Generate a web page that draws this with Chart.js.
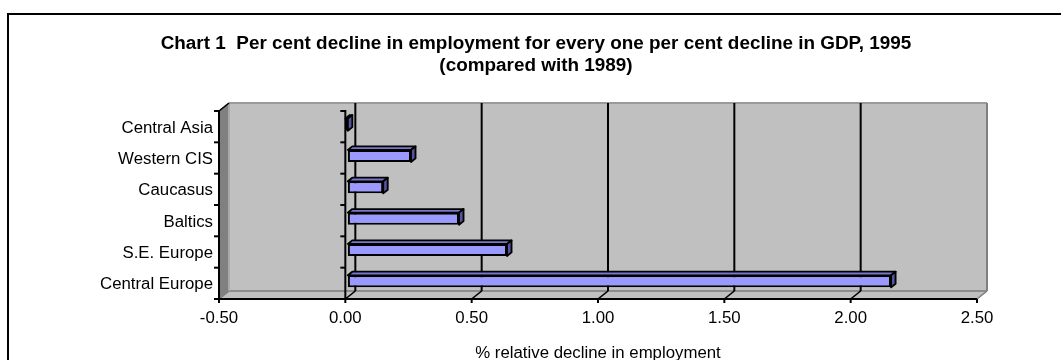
<!DOCTYPE html>
<html>
<head>
<meta charset="utf-8">
<title>Per cent decline in employment</title>
<script src="https://cdn.jsdelivr.net/npm/chart.js@4.4.1/dist/chart.umd.min.js"></script>
<style>
  html, body { margin: 0; padding: 0; background: #ffffff; }
  canvas { display: block; }
</style>
</head>
<body>
<canvas id="chart" width="1061" height="360"></canvas>
<script>
// ---- data -------------------------------------------------------------
const categories = ['Central Asia', 'Western CIS', 'Caucasus', 'Baltics', 'S.E. Europe', 'Central Europe'];
const declineRatio = [-0.01, 0.25, 0.14, 0.44, 0.63, 2.15];
const tickValues = [-0.5, 0, 0.5, 1, 1.5, 2, 2.5];
const titleLines = [
  'Chart 1  Per cent decline in employment for every one per cent decline in GDP, 1995',
  '(compared with 1989)'
];
const axisTitle = '% relative decline in employment';

// ---- look -------------------------------------------------------------
const FONT = '"Liberation Sans", Arial, Helvetica, sans-serif';
const SX = 1.05;               // the whole drawing is stretched slightly sideways
const CANVAS_W = 1061;
const PLOT_LEFT = 219 / SX;    // front plane of the 3-D box, in drawing units
const PLOT_RIGHT = 977 / SX;
const TITLE_CENTER = 536 / SX;
const DEPTH_X = 10 / SX;       // depth offset (front plane -> back wall)
const DEPTH_Y = -8;
const BAR_FRONT = 0.25;        // bar slab position inside the depth
const BAR_BACK = 0.7;
const V_LINE = 2 / SX;         // 2 screen px for vertical strokes
const RIGHT_PAD = CANVAS_W - 2 * TITLE_CENTER;

function poly(ctx, pts, fill, stroke, lw) {
  ctx.beginPath();
  ctx.moveTo(pts[0][0], pts[0][1]);
  for (let i = 1; i < pts.length; i++) ctx.lineTo(pts[i][0], pts[i][1]);
  ctx.closePath();
  if (fill) { ctx.fillStyle = fill; ctx.fill(); }
  if (stroke) { ctx.strokeStyle = stroke; ctx.lineWidth = lw || 2; ctx.stroke(); }
}
function line(ctx, x1, y1, x2, y2, color, lw) {
  ctx.beginPath();
  ctx.moveTo(x1, y1);
  ctx.lineTo(x2, y2);
  ctx.strokeStyle = color;
  ctx.lineWidth = lw;
  ctx.stroke();
}

// Walls, floor, grid and axis lines of the 3-D box
function drawBox(chart) {
  const ctx = chart.ctx;
  const { left: L, right: R, top: T, bottom: B } = chart.chartArea;
  const xs = chart.scales.x, ys = chart.scales.y;
  const dx = DEPTH_X, dy = DEPTH_Y;

  // back wall
  ctx.fillStyle = '#C0C0C0';
  ctx.fillRect(L + dx, T + dy, R - L, B - T);
  // floor
  poly(ctx, [[L, B], [L + dx, B + dy], [R + dx, B + dy], [R, B]], '#C0C0C0');
  // left side wall
  poly(ctx, [[L, T], [L + dx, T + dy], [L + dx, B + dy], [L, B]], '#808080');

  // wall outlines
  ctx.lineCap = 'butt';
  line(ctx, L + dx, T + dy, R + dx, T + dy, '#9A9A9A', 2);
  line(ctx, R + dx, T + dy, R + dx, B + dy, '#808080', V_LINE);
  line(ctx, L + dx, B + dy, R + dx, B + dy, '#8C8C8C', 2);
  line(ctx, L + dx, T + dy, L + dx, B + dy, '#A8A8A8', V_LINE);
  line(ctx, R, B, R + dx, B + dy, '#808080', 1.6);
  line(ctx, L, B, L + dx, B + dy, '#808080', 1.6);

  // gridlines on the back wall and their traces across the floor
  tickValues.forEach(v => {
    if (v <= tickValues[0] || v >= tickValues[tickValues.length - 1]) return;
    const x = xs.getPixelForValue(v);
    line(ctx, x + dx, T + dy, x + dx, B + dy, '#000000', V_LINE);
    line(ctx, x, B, x + dx, B + dy, '#000000', 1.6);
  });

  // category boundaries
  const half = (ys.getPixelForValue(1) - ys.getPixelForValue(0)) / 2;
  const bounds = [];
  for (let i = 0; i < categories.length; i++) bounds.push(ys.getPixelForValue(i) - half);
  bounds.push(ys.getPixelForValue(categories.length - 1) + half);

  // left wall front edge with category ticks
  line(ctx, L, T, L + dx, T + dy, '#000000', 1.6);
  line(ctx, L, T - 1, L, B + 1, '#000000', V_LINE);
  bounds.forEach(y => line(ctx, L, y, L - 5 / SX, y, '#000000', 2));

  // category axis at zero with ticks
  const x0 = xs.getPixelForValue(0);
  line(ctx, x0, T - 1, x0, B, '#000000', V_LINE);
  bounds.forEach(y => line(ctx, x0, y, x0 - 5 / SX, y, '#000000', 2));

  // value axis along the front of the floor
  line(ctx, L, B, R, B, '#000000', 2);
  tickValues.forEach(v => {
    const x = xs.getPixelForValue(v);
    line(ctx, x, B, x, B + 4, '#000000', V_LINE);
  });
}

const boxPlugin = {
  id: 'box3d',
  beforeDraw(chart) {
    const ctx = chart.ctx;
    ctx.save();
    ctx.fillStyle = '#ffffff';
    ctx.fillRect(0, 0, chart.width, chart.height);
    ctx.scale(SX, 1);
    // frame around the chart
    ctx.fillStyle = '#000000';
    ctx.fillRect(7 / SX, 13, (chart.width - 7) / SX, 2);
    ctx.fillRect(7 / SX, 13, 2 / SX, chart.height - 13);
    drawBox(chart);
  },
  beforeDatasetsDraw(chart) {
    const ctx = chart.ctx;
    const fx = DEPTH_X * BAR_FRONT, fy = DEPTH_Y * BAR_FRONT;
    const ddx = DEPTH_X * (BAR_BACK - BAR_FRONT), ddy = DEPTH_Y * (BAR_BACK - BAR_FRONT);
    ctx.save();
    ctx.translate(fx, fy);
    ctx.lineJoin = 'round';
    chart.getDatasetMeta(0).data.forEach(bar => {
      const { x, y, base, height } = bar.getProps(['x', 'y', 'base', 'height'], true);
      const l = Math.min(x, base), r = Math.max(x, base);
      const t = y - height / 2, b = y + height / 2;
      // top face
      poly(ctx, [[l, t], [r, t], [r + ddx, t + ddy], [l + ddx, t + ddy]], '#7777CC', '#000000', 1.8);
      // end face
      poly(ctx, [[r, t], [r + ddx, t + ddy], [r + ddx, b + ddy], [r, b]], '#55559F', '#000000', 1.8);
    });
    // the library draws the front faces in this shifted frame
  },
  afterDatasetsDraw(chart) {
    chart.ctx.restore();
  },
  afterDraw(chart) {
    chart.ctx.restore();
  }
};

new Chart(document.getElementById('chart'), {
  type: 'bar',
  data: {
    labels: categories,
    datasets: [{
      data: declineRatio,
      backgroundColor: '#9999FF',
      borderColor: '#000000',
      borderWidth: 2,
      borderSkipped: false,
      barPercentage: 0.385,
      categoryPercentage: 1
    }]
  },
  options: {
    indexAxis: 'y',
    responsive: false,
    animation: false,
    devicePixelRatio: 1,
    events: [],
    layout: { padding: { left: 0, right: RIGHT_PAD, top: 0, bottom: 0 } },
    plugins: {
      legend: { display: false },
      tooltip: { enabled: false },
      title: {
        display: true,
        text: titleLines,
        color: '#000000',
        font: { family: FONT, size: 18, weight: 'bold', lineHeight: 22 / 18 },
        padding: { top: 33, bottom: 34 }
      }
    },
    scales: {
      x: {
        type: 'linear',
        position: 'bottom',
        min: tickValues[0],
        max: tickValues[tickValues.length - 1],
        afterBuildTicks(scale) { scale.ticks = tickValues.map(v => ({ value: v })); },
        ticks: {
          callback: v => Number(v).toFixed(2),
          color: '#000000',
          font: { family: FONT, size: 16 },
          padding: 10,
          maxRotation: 0,
          autoSkip: false
        },
        grid: { display: false, drawTicks: false },
        border: { display: false },
        title: {
          display: true,
          text: axisTitle,
          color: '#000000',
          font: { family: FONT, size: 16, lineHeight: 0.75 },
          padding: { top: 0, bottom: 0.5 }
        },
        afterFit(scale) { scale.height = 61; }
      },
      y: {
        type: 'category',
        position: 'left',
        offset: true,
        ticks: { color: '#000000', font: { family: FONT, size: 16 }, padding: 5.7, labelOffset: 1.5, autoSkip: false },
        grid: { display: false, drawTicks: false },
        border: { display: false },
        afterFit(scale) { scale.width = PLOT_LEFT; }
      },
      side: {
        type: 'linear',
        position: 'right',
        grid: { display: false, drawTicks: false },
        border: { display: false },
        ticks: { display: false },
        afterFit(scale) { scale.width = CANVAS_W - RIGHT_PAD - PLOT_RIGHT; }
      }
    }
  },
  plugins: [boxPlugin]
});
</script>
</body>
</html>
